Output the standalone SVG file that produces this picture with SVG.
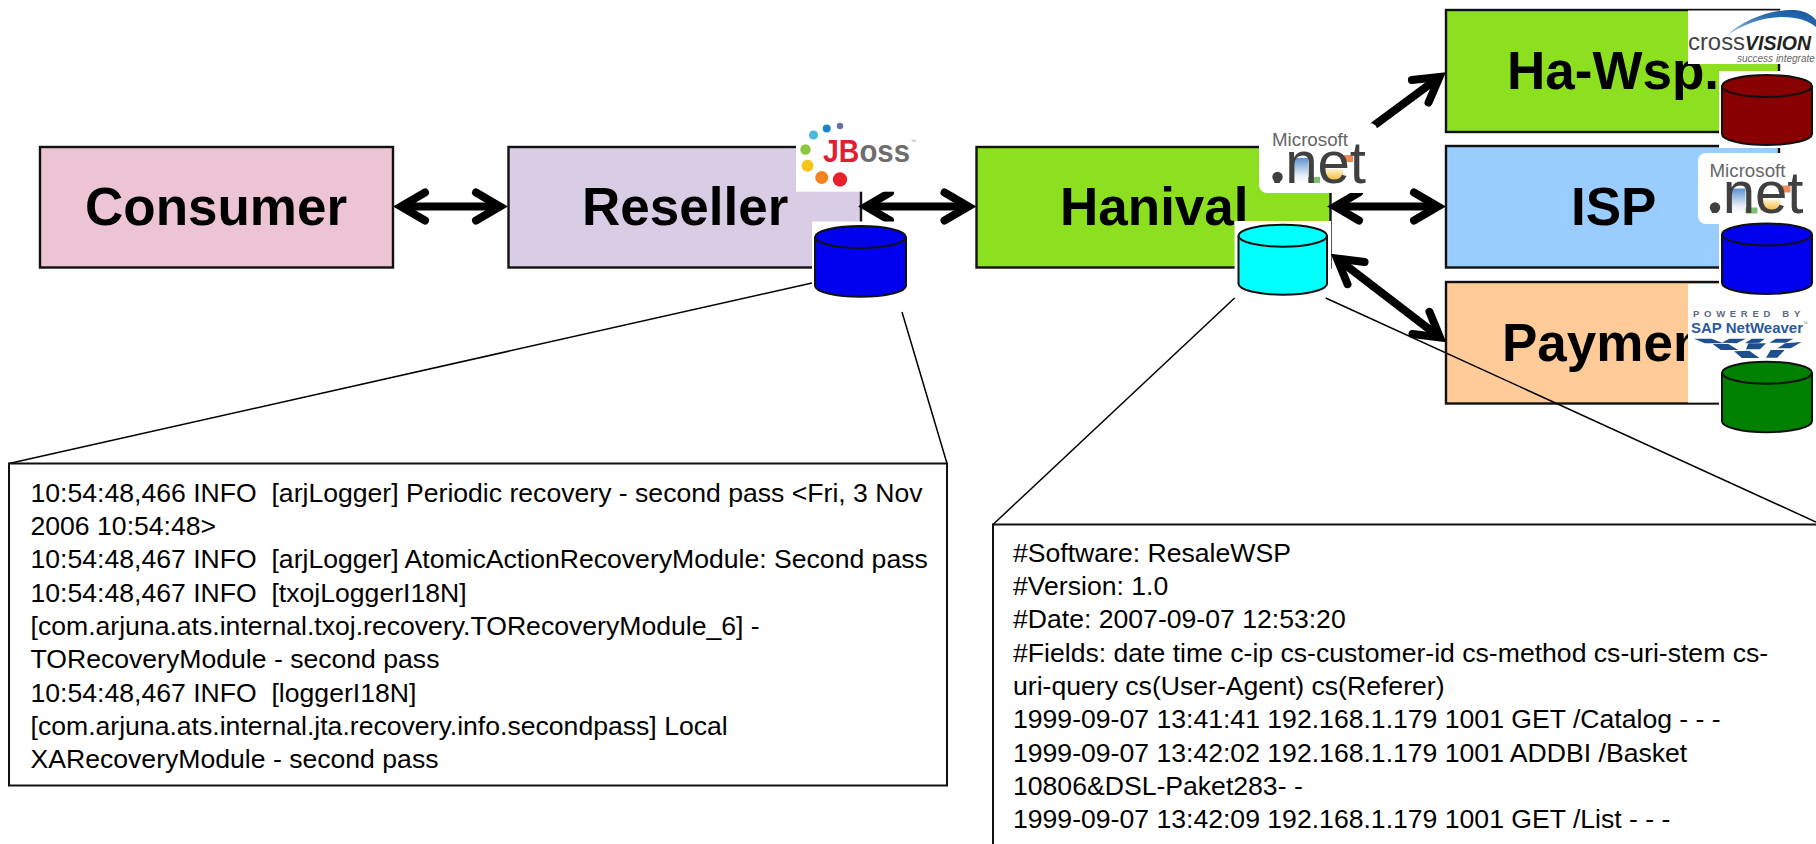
<svg xmlns="http://www.w3.org/2000/svg" width="1816" height="844" viewBox="0 0 1816 844">
<style>
text{font-family:"Liberation Sans",Arial,sans-serif;white-space:pre}
.box{stroke:#111;stroke-width:2.4}
.title{font-size:53px;font-weight:bold;fill:#000}
.log{font-size:26.6px;fill:#000}
.note{fill:#fff;stroke:#111;stroke-width:2}
.arrow{fill:none;stroke:#000;stroke-width:8}
.both{marker-start:url(#v);marker-end:url(#v)}
.one{marker-end:url(#v)}
.thin{fill:none;stroke:#000;stroke-width:1.5}
.cyl{stroke:#111;stroke-width:2}
.lid{fill:none;stroke:#111;stroke-width:2}
.ms{font-size:19px;fill:#666}
.net{font-size:60px;fill:#404040}
</style>
<defs>
<marker id="v" markerUnits="userSpaceOnUse" markerWidth="60" markerHeight="60" refX="0" refY="0" viewBox="-30 -30 60 60" orient="auto-start-reverse" overflow="visible">
<path d="M-24,-14 L0,0 L-24,14" fill="none" stroke="#000" stroke-width="8" stroke-linecap="round" stroke-linejoin="miter"/>
</marker>
<linearGradient id="nfill" x1="0" y1="0" x2="0" y2="1"><stop offset="0" stop-color="#5b93d0"/><stop offset=".7" stop-color="#e8eef6"/><stop offset="1" stop-color="#ffffff"/></linearGradient>
<linearGradient id="efill" x1="0" y1="0" x2="0" y2="1"><stop offset="0" stop-color="#fff3cf"/><stop offset="1" stop-color="#f5b93a"/></linearGradient>
<linearGradient id="arc" x1="0" y1="1" x2="1" y2="0"><stop offset="0" stop-color="#a8c8e4"/><stop offset=".6" stop-color="#2a6cb0"/><stop offset="1" stop-color="#15559f"/></linearGradient>
</defs>

<g id="consumer"><rect class="box" x="40" y="147" width="353" height="120.5" fill="#ECC4D4"/><text class="title" x="85" y="225">Consumer</text></g>
<g id="reseller"><rect class="box" x="508.5" y="147" width="352.5" height="120.5" fill="#D9CCE5"/><text class="title" x="582" y="225">Reseller</text></g>
<g id="hanival"><rect class="box" x="976.5" y="147" width="354" height="120.5" fill="#8CE01F"/><text class="title" x="1060" y="225">Hanival</text></g>
<g id="ha-wsp"><rect class="box" x="1446" y="10" width="333" height="122" fill="#8CE01F"/><text class="title" x="1507" y="89">Ha-Wsp.</text></g>
<g id="isp"><rect class="box" x="1446" y="146" width="333" height="121.5" fill="#99CCFF"/><text class="title" x="1571" y="225">ISP</text></g>
<g id="payment"><rect class="box" x="1446" y="282" width="333" height="121.5" fill="#FFCC99"/><text class="title" x="1502" y="361">Paymen</text></g>

<g id="connectors">
<line class="arrow both" x1="401" y1="206.5" x2="500" y2="206.5"/>
<line class="arrow both" x1="866" y1="206.5" x2="968.5" y2="206.5"/>
<line class="arrow both" x1="1335" y1="206.5" x2="1438" y2="206.5"/>
<line class="arrow one" x1="1372" y1="127" x2="1439.5" y2="77"/>
<line class="arrow both" x1="1337" y1="258.5" x2="1440" y2="337.5"/>
<line class="thin" x1="812" y1="283" x2="9" y2="463.5"/>
<line class="thin" x1="902" y1="312" x2="947" y2="463.5"/>
<line class="thin" x1="1234.6" y1="298" x2="993" y2="524.5"/>
<line class="thin" x1="1325.7" y1="298" x2="1816" y2="522"/>
</g>

<g id="jboss-logo">
<rect x="796" y="116" width="124" height="75.7" fill="#fff"/>
<circle cx="840" cy="126" r="3.2" fill="#6b6fa8"/><circle cx="826.7" cy="128.5" r="4" fill="#1a86c8"/><circle cx="813.5" cy="135" r="4.6" fill="#4cb8dc"/><circle cx="805.5" cy="149.5" r="5.2" fill="#8dc63f"/><circle cx="807.5" cy="165.7" r="6" fill="#f5c518"/><circle cx="821.7" cy="177.5" r="6.5" fill="#f58220"/><circle cx="840" cy="179.5" r="7.2" fill="#e8202a"/>
<text x="823" y="161.5" font-size="31" font-weight="bold" textLength="87" lengthAdjust="spacingAndGlyphs"><tspan fill="#e02030">JB</tspan><tspan fill="#6d6d6d" font-size="32">oss</tspan></text>
<text x="911" y="143" font-size="5" fill="#888">™</text>
</g>

<g id="reseller-db"><rect x="812" y="221.5" width="97" height="76.5" fill="#fff"/><path class="cyl" fill="#0000EE" d="M815,237 V285.7 A45.5,11 0 0 0 906,285.7 V237 A45.5,11 0 0 0 815,237 Z"/><path class="lid" d="M815,237 A45.5,11 0 0 0 906,237"/></g>

<g id="hanival-logo">
<rect x="1259" y="123" width="118.5" height="70" rx="8" fill="#fff"/>
<rect x="1294" y="158" width="14" height="25" fill="url(#nfill)"/><rect x="1308" y="177" width="12" height="6" fill="#7fbf73"/>
<rect x="1323" y="169" width="20" height="11" fill="url(#efill)"/><rect x="1341" y="155" width="12" height="7" fill="#ee8a55"/>
<text class="ms" x="1272" y="146" textLength="76" lengthAdjust="spacingAndGlyphs">Microsoft</text>
<text class="net" x="1269" y="182.5" textLength="97" lengthAdjust="spacingAndGlyphs">.net</text>
<circle cx="1277.5" cy="177" r="5.2" fill="#404040"/>
</g>
<g id="hanival-db"><rect x="1234.6" y="221" width="96.4" height="75" fill="#fff"/><path class="cyl" fill="#00FFFF" d="M1238.5,235.7 V283.7 A44.25,11 0 0 0 1327,283.7 V235.7 A44.25,11 0 0 0 1238.5,235.7 Z"/><path class="lid" d="M1238.5,235.7 A44.25,11 0 0 0 1327,235.7"/></g>

<g id="crossvision-logo">
<rect x="1688" y="10.5" width="128" height="53.5" fill="#fff"/>
<path fill="url(#arc)" d="M1726,36 C1745,18 1775,9 1795,10 C1805,11 1812,15 1816,20 L1816,27 C1808,20 1795,16.5 1780,17 C1760,18 1742,25 1726,36 Z"/>
<text x="1688" y="50" font-size="24" fill="#444" textLength="57" lengthAdjust="spacingAndGlyphs">cross</text>
<text x="1745" y="50" font-size="19.5" font-weight="bold" font-style="italic" fill="#222" textLength="66" lengthAdjust="spacingAndGlyphs">VISION</text>
<text x="1737" y="61.5" font-size="10" font-style="italic" fill="#666">success integrate</text>
</g>
<g id="ha-wsp-db"><rect x="1719" y="71" width="96" height="77" fill="#fff"/><path class="cyl" fill="#880000" d="M1722,86 V134 A45,11 0 0 0 1812,134 V86 A45,11 0 0 0 1722,86 Z"/><path class="lid" d="M1722,86 A45,11 0 0 0 1812,86"/></g>

<g id="isp-logo">
<rect x="1698" y="153" width="118" height="71" rx="8" fill="#fff"/>
<g transform="translate(437.5 30.5)">
<rect x="1294" y="158" width="14" height="25" fill="url(#nfill)"/><rect x="1308" y="177" width="12" height="6" fill="#7fbf73"/>
<rect x="1323" y="169" width="20" height="11" fill="url(#efill)"/><rect x="1341" y="155" width="12" height="7" fill="#ee8a55"/>
<text class="ms" x="1272" y="146" textLength="76" lengthAdjust="spacingAndGlyphs">Microsoft</text>
<text class="net" x="1269" y="182.5" textLength="97" lengthAdjust="spacingAndGlyphs">.net</text>
<circle cx="1277.5" cy="177" r="5.2" fill="#404040"/>
</g>
</g>

<g id="sap-logo">
<rect x="1688" y="284" width="128" height="118.5" fill="#fff"/>
<text x="1693" y="316.5" font-size="9.5" font-weight="bold" fill="#5a6a80" letter-spacing="4.7">POWERED BY</text>
<text x="1691" y="332.5" font-size="14.5" font-weight="bold" fill="#2a5a9a" textLength="112" lengthAdjust="spacingAndGlyphs">SAP NetWeaver</text>
<text x="1803" y="325" font-size="5" fill="#888">™</text>
<g transform="translate(1680 290) scale(.3333)" fill="#1f4e8c">
<polygon points="42,146 95,146 130,160 75,160"/><polygon points="148,146 198,146 170,160 125,158"/><polygon points="215,146 255,146 238,158 195,160"/><polygon points="288,146 340,146 318,158 268,158"/>
<polygon points="98,162 145,162 175,180 122,180"/><polygon points="205,160 258,160 240,178 198,178"/><polygon points="315,160 365,156 332,175 292,175"/>
<polygon points="162,184 208,182 238,204 188,206"/><polygon points="272,180 314,180 292,203 258,203"/>
</g>
</g>
<g id="isp-db"><rect x="1719" y="221" width="96" height="76" fill="#fff"/><path class="cyl" fill="#0000EE" d="M1722,234.5 V283 A45,11 0 0 0 1812,283 V234.5 A45,11 0 0 0 1722,234.5 Z"/><path class="lid" d="M1722,234.5 A45,11 0 0 0 1812,234.5"/></g>
<g id="payment-db"><rect x="1719" y="358" width="96" height="78" fill="#fff"/><path class="cyl" fill="#008000" d="M1722,372.7 V421.3 A45,11 0 0 0 1812,421.3 V372.7 A45,11 0 0 0 1722,372.7 Z"/><path class="lid" d="M1722,372.7 A45,11 0 0 0 1812,372.7"/></g>

<g id="reseller-log">
<rect class="note" x="9" y="463.5" width="938" height="322"/>
<text class="log" x="30.5" y="501.7">10:54:48,466 INFO  [arjLogger] Periodic recovery - second pass &lt;Fri, 3 Nov</text>
<text class="log" x="30.5" y="535">2006 10:54:48&gt;</text>
<text class="log" x="30.5" y="568.3">10:54:48,467 INFO  [arjLogger] AtomicActionRecoveryModule: Second pass</text>
<text class="log" x="30.5" y="601.7">10:54:48,467 INFO  [txojLoggerI18N]</text>
<text class="log" x="30.5" y="635">[com.arjuna.ats.internal.txoj.recovery.TORecoveryModule_6] -</text>
<text class="log" x="30.5" y="668.3">TORecoveryModule - second pass</text>
<text class="log" x="30.5" y="701.7">10:54:48,467 INFO  [loggerI18N]</text>
<text class="log" x="30.5" y="735">[com.arjuna.ats.internal.jta.recovery.info.secondpass] Local</text>
<text class="log" x="30.5" y="768.3">XARecoveryModule - second pass</text>
</g>
<g id="hanival-log">
<rect class="note" x="993" y="524.5" width="840" height="340"/>
<text class="log" x="1013" y="561.7">#Software: ResaleWSP</text>
<text class="log" x="1013" y="595">#Version: 1.0</text>
<text class="log" x="1013" y="628.3">#Date: 2007-09-07 12:53:20</text>
<text class="log" x="1013" y="661.7">#Fields: date time c-ip cs-customer-id cs-method cs-uri-stem cs-</text>
<text class="log" x="1013" y="695">uri-query cs(User-Agent) cs(Referer)</text>
<text class="log" x="1013" y="728.3">1999-09-07 13:41:41 192.168.1.179 1001 GET /Catalog - - -</text>
<text class="log" x="1013" y="761.7">1999-09-07 13:42:02 192.168.1.179 1001 ADDBI /Basket</text>
<text class="log" x="1013" y="795">10806&amp;DSL-Paket283- -</text>
<text class="log" x="1013" y="828.3">1999-09-07 13:42:09 192.168.1.179 1001 GET /List - - -</text>
</g>
</svg>
